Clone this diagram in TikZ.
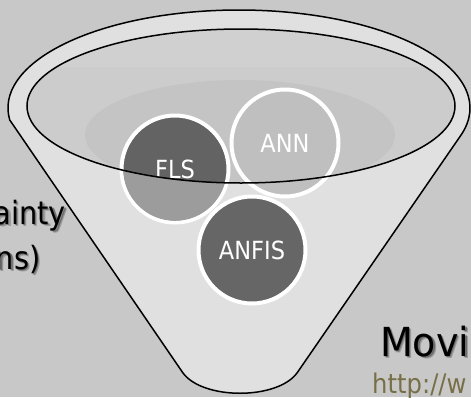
\documentclass[tikz,border=0pt]{standalone}
\usepackage{fontspec}
\newfontfamily\tah[FakeStretch=0.9]{DejaVu Sans}
\newfontfamily\tahw[FakeStretch=0.95]{DejaVu Sans}
\definecolor{bgc}{HTML}{C8C8C8}
\definecolor{funnelc}{HTML}{E0E0E0}
\definecolor{innerc}{HTML}{CCCCCC}
\definecolor{bandc}{HTML}{D0D0D0}
\definecolor{darkellc}{HTML}{C4C4C4}
\definecolor{flsc}{HTML}{636363}
\definecolor{flslight}{HTML}{9C9C9C}
\definecolor{annc}{HTML}{BFBFBF}
\definecolor{anfisc}{HTML}{666666}
\definecolor{urlc}{HTML}{777047}
\begin{document}
\begin{tikzpicture}[x=1pt,y=-1pt,
  circ/.style={circle,draw=white,line width=4pt,minimum size=107pt,inner sep=0pt,text=white,font=\tah\fontsize{25}{30}\selectfont},
  rimline/.style={draw=black,line width=1.5pt},
  bigtext/.style={inner sep=0pt,font=\tah\fontsize{32}{38}\selectfont},
  movitext/.style={inner sep=0pt,font=\tahw\fontsize{40}{46}\selectfont},
  urltext/.style={inner sep=0pt,text=urlc,font=\tah\fontsize{27}{32}\selectfont},
  shadowA/.style={text=black,opacity=0.3},
  shadowB/.style={text=black,opacity=0.22}]
\useasboundingbox (0,0) rectangle (471,397);
\fill[bgc] (0,0) rectangle (471,397);
% left texts with soft shadow
\node[bigtext,shadowA,anchor=base east] (t1a) at (67.3,225.3) {ainty};
\node[bigtext,shadowB,anchor=base east] (t1b) at (68.7,226.7) {ainty};
\node[bigtext,anchor=base east] (t1) at (66,224) {ainty};
\node[bigtext,shadowA,anchor=base east] (t2a) at (41.8,270.3) {ns)};
\node[bigtext,shadowB,anchor=base east] (t2b) at (43.2,271.7) {ns)};
\node[bigtext,anchor=base east] (t2) at (40.5,269) {ns)};
% funnel body
\coordinate (rimc) at (239,108);
\path (rimc) ++(187:231pt and 98pt) coordinate (L);
\coordinate (BR) at (297,373);
\coordinate (BL) at (183,373);
\filldraw[fill=funnelc,rimline,line join=round]
  (L) arc[start angle=187,end angle=-16,x radius=231pt,y radius=98pt]
  -- (BR) .. controls (277,400) and (203,400) .. (BL) -- cycle;
% inner opening
\coordinate (ic) at (241,106);
\fill[innerc] (ic) ellipse[x radius=214pt,y radius=77pt];
\begin{scope}
  \clip (ic) ellipse[x radius=214pt,y radius=77pt];
  \fill[bandc] (0,0) rectangle (471,67);
  \fill[darkellc] (240,135) ellipse[x radius=155pt,y radius=55pt];
\end{scope}
% circles
\node[circ,fill=flsc] (fls) at (175,169) {FLS};
\begin{scope}
  \clip (fls.center) circle[radius=51.8pt];
  \fill[flslight,even odd rule] (0,0) rectangle (471,397)
    (ic) ellipse[x radius=214pt,y radius=77pt];
\end{scope}
\node[circ,fill=annc] (ann) at (285,143) {ANN};
\node[circ,fill=anfisc] (anfis) at (252,250) {ANFIS};
\draw[rimline] (ic) ellipse[x radius=214pt,y radius=77pt];
% right texts
\node[movitext,shadowA,anchor=base west] (t3a) at (381.3,357.3) {Movi};
\node[movitext,shadowB,anchor=base west] (t3b) at (382.7,358.7) {Movi};
\node[movitext,anchor=base west] (t3) at (380,356) {Movi};
\node[urltext,anchor=base west] (t4) at (372,393) {http://w};
\end{tikzpicture}
\end{document}
